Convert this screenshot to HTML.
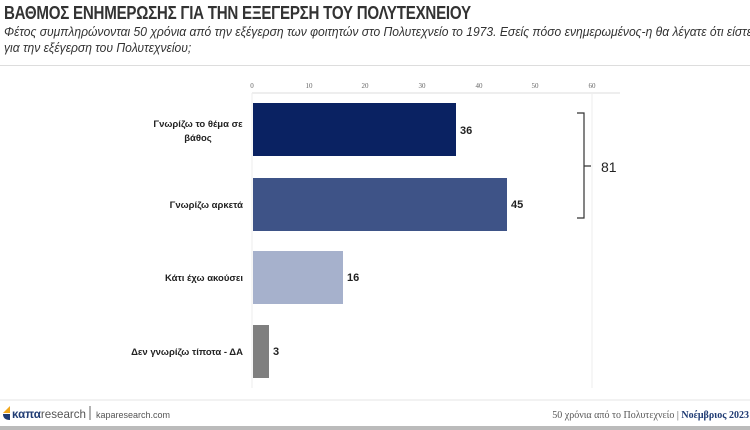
<!DOCTYPE html>
<html><head><meta charset="utf-8"><style>
body{margin:0;width:750px;height:430px;background:#fff;position:relative;overflow:hidden;font-family:"Liberation Sans",sans-serif;}
.a{position:absolute;white-space:nowrap;}
</style></head><body>
<div class="a" style="left:4px;top:3px;font-size:18px;font-weight:bold;color:#333;letter-spacing:-0.3px;transform:scaleX(0.84);transform-origin:left">ΒΑΘΜΟΣ ΕΝΗΜΕΡΩΣΗΣ ΓΙΑ ΤΗΝ ΕΞΕΓΕΡΣΗ ΤΟΥ ΠΟΛΥΤΕΧΝΕΙΟΥ</div>
<div class="a" style="left:4px;top:24px;font-size:13px;font-style:italic;color:#333;line-height:16px;transform:scaleX(0.93);transform-origin:left">Φέτος συμπληρώνονται 50 χρόνια από την εξέγερση των φοιτητών στο Πολυτεχνείο το 1973. Εσείς πόσο ενημερωμένος-η θα λέγατε ότι είστε<br>για την εξέγερση του Πολυτεχνείου;</div>
<div class="a" style="left:0;top:65px;width:750px;height:1px;background:#ddd"></div>
<svg class="a" style="left:0;top:0" width="750" height="430">
<g font-family="Liberation Serif" font-size="7" fill="#666" text-anchor="middle">
<text x="252" y="88">0</text><text x="309" y="88">10</text><text x="365" y="88">20</text><text x="422" y="88">30</text><text x="479" y="88">40</text><text x="535" y="88">50</text><text x="592" y="88">60</text></g>
<line x1="252" y1="93" x2="620" y2="93" stroke="#ddd"/>
<g stroke="#eee"><line x1="252" y1="93" x2="252" y2="388"/><line x1="592" y1="93" x2="592" y2="388"/></g>
<rect x="253" y="103" width="203" height="53" fill="#0a2262"/>
<rect x="253" y="178" width="254" height="53" fill="#3e5387"/>
<rect x="253" y="251" width="90" height="53" fill="#a6b1cc"/>
<rect x="253" y="325" width="16" height="53" fill="#7f7f7f"/>
<g font-size="11" font-weight="bold" fill="#222">
<text x="460" y="134">36</text><text x="511" y="208">45</text><text x="347" y="281">16</text><text x="273" y="355">3</text></g>
<g font-size="9.5" fill="#222" font-weight="bold">
<text x="198" y="127" text-anchor="middle">Γνωρίζω το θέμα σε</text><text x="198" y="141" text-anchor="middle">βάθος</text>
<g text-anchor="end"><text x="243" y="208">Γνωρίζω αρκετά</text>
<text x="243" y="281">Κάτι έχω ακούσει</text>
<text x="243" y="355">Δεν γνωρίζω τίποτα - ΔΑ</text></g></g>
<path d="M577 113 H584 V218 H577 M584 166 H591" fill="none" stroke="#333" stroke-width="1.2"/>
<text x="601" y="172" font-size="14" fill="#222">81</text>
<line x1="0" y1="400" x2="750" y2="400" stroke="#e5e5e5"/>
<rect x="0" y="426" width="750" height="4" fill="#bbb"/>
<path d="M3 413 L10 406 L10 413 Z" fill="#f2a81d"/><path d="M3 414 H10 V420 Q3 420 3 414Z" fill="#1f3b73"/>
<text x="12" y="418" font-size="12" font-weight="bold" fill="#1f3b73" textLength="74" lengthAdjust="spacingAndGlyphs">καπα<tspan font-weight="normal" fill="#555">research</tspan></text>
<line x1="90" y1="406" x2="90" y2="420" stroke="#666"/>
<text x="96" y="418" font-size="9" fill="#555">kaparesearch.com</text>
<text x="749" y="418" font-family="Liberation Serif" font-size="10" fill="#555" text-anchor="end">50 χρόνια από το Πολυτεχνείο | <tspan fill="#1f3b73" font-weight="bold">Νοέμβριος 2023</tspan></text>
</svg>
</body></html>
